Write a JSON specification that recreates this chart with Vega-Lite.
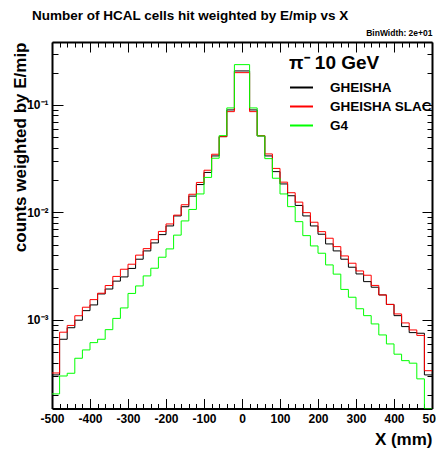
{
  "$schema": "https://vega.github.io/schema/vega-lite/v6.json",
  "autosize": "none",
  "width": 380,
  "height": 366.5,
  "padding": {"left": 52, "top": 42, "right": 4, "bottom": 41.5},
  "background": "white",
  "title": {"text": "Number of HCAL cells hit weighted by E/mip vs X", "anchor": "start", "frame": "group", "dx": -20, "dy": 13, "fontSize": 13.5, "fontWeight": "bold", "font": "Liberation Sans", "color": "black", "baseline": "alphabetic", "offset": 8},
  "config": {
    "view": {"stroke": null},
    "font": "Liberation Sans",
    "axis": {"domainColor": "black", "domainWidth": 2, "tickColor": "black", "tickWidth": 1, "labelFont": "Liberation Sans", "labelFontWeight": "bold", "labelColor": "black", "titleFont": "Liberation Sans", "titleFontWeight": "bold", "titleColor": "black", "grid": false, "labelOverlap": false, "labelFlush": false, "labelBound": false}
  },
  "data": {"values": [
    {"x": -500, "GHEISHA": 3.08e-4, "GHEISHA SLAC": 3.21e-4, "G4": 2.05e-4},
    {"x": -480, "GHEISHA": 6.61e-4, "GHEISHA SLAC": 7.69e-4, "G4": 3.01e-4},
    {"x": -460, "GHEISHA": 8.46e-4, "GHEISHA SLAC": 8.89e-4, "G4": 3.19e-4},
    {"x": -440, "GHEISHA": 9.94e-4, "GHEISHA SLAC": 1.094e-3, "G4": 4.40e-4},
    {"x": -420, "GHEISHA": 1.220e-3, "GHEISHA SLAC": 1.313e-3, "G4": 5.26e-4},
    {"x": -400, "GHEISHA": 1.379e-3, "GHEISHA SLAC": 1.545e-3, "G4": 6.15e-4},
    {"x": -380, "GHEISHA": 1.745e-3, "GHEISHA SLAC": 1.772e-3, "G4": 6.61e-4},
    {"x": -360, "GHEISHA": 1.939e-3, "GHEISHA SLAC": 2.089e-3, "G4": 8.12e-4},
    {"x": -340, "GHEISHA": 2.296e-3, "GHEISHA SLAC": 2.540e-3, "G4": 1.033e-3},
    {"x": -320, "GHEISHA": 2.512e-3, "GHEISHA SLAC": 2.962e-3, "G4": 1.293e-3},
    {"x": -300, "GHEISHA": 3.014e-3, "GHEISHA SLAC": 3.298e-3, "G4": 1.764e-3},
    {"x": -280, "GHEISHA": 3.671e-3, "GHEISHA SLAC": 4.007e-3, "G4": 2.071e-3},
    {"x": -260, "GHEISHA": 4.385e-3, "GHEISHA SLAC": 4.607e-3, "G4": 2.567e-3},
    {"x": -240, "GHEISHA": 5.204e-3, "GHEISHA SLAC": 5.585e-3, "G4": 3.027e-3},
    {"x": -220, "GHEISHA": 6.217e-3, "GHEISHA SLAC": 6.657e-3, "G4": 3.831e-3},
    {"x": -200, "GHEISHA": 7.488e-3, "GHEISHA SLAC": 7.816e-3, "G4": 4.577e-3},
    {"x": -180, "GHEISHA": 9.277e-3, "GHEISHA SLAC": 9.438e-3, "G4": 6.150e-3},
    {"x": -160, "GHEISHA": 1.130e-2, "GHEISHA SLAC": 1.179e-2, "G4": 8.335e-3},
    {"x": -140, "GHEISHA": 1.418e-2, "GHEISHA SLAC": 1.476e-2, "G4": 1.066e-2},
    {"x": -120, "GHEISHA": 1.817e-2, "GHEISHA SLAC": 1.901e-2, "G4": 1.486e-2},
    {"x": -100, "GHEISHA": 2.356e-2, "GHEISHA SLAC": 2.470e-2, "G4": 2.117e-2},
    {"x": -80, "GHEISHA": 3.354e-2, "GHEISHA SLAC": 3.478e-2, "G4": 3.193e-2},
    {"x": -60, "GHEISHA": 5.072e-2, "GHEISHA SLAC": 5.072e-2, "G4": 5.182e-2},
    {"x": -40, "GHEISHA": 8.985e-2, "GHEISHA SLAC": 8.665e-2, "G4": 9.378e-2},
    {"x": -20, "GHEISHA": 0.2071, "GHEISHA SLAC": 0.1997, "G4": 0.2371},
    {"x": 0, "GHEISHA": 0.2071, "GHEISHA SLAC": 0.1997, "G4": 0.2371},
    {"x": 20, "GHEISHA": 8.985e-2, "GHEISHA SLAC": 8.665e-2, "G4": 9.378e-2},
    {"x": 40, "GHEISHA": 5.148e-2, "GHEISHA SLAC": 5.182e-2, "G4": 5.148e-2},
    {"x": 60, "GHEISHA": 3.354e-2, "GHEISHA SLAC": 3.501e-2, "G4": 3.166e-2},
    {"x": 80, "GHEISHA": 2.396e-2, "GHEISHA SLAC": 2.567e-2, "G4": 2.080e-2},
    {"x": 100, "GHEISHA": 1.841e-2, "GHEISHA SLAC": 1.913e-2, "G4": 1.486e-2},
    {"x": 120, "GHEISHA": 1.430e-2, "GHEISHA SLAC": 1.525e-2, "G4": 1.132e-2},
    {"x": 140, "GHEISHA": 1.162e-2, "GHEISHA SLAC": 1.247e-2, "G4": 8.210e-3},
    {"x": 160, "GHEISHA": 9.277e-3, "GHEISHA SLAC": 9.956e-3, "G4": 6.085e-3},
    {"x": 180, "GHEISHA": 7.488e-3, "GHEISHA SLAC": 8.106e-3, "G4": 4.880e-3},
    {"x": 200, "GHEISHA": 6.270e-3, "GHEISHA SLAC": 6.628e-3, "G4": 4.173e-3},
    {"x": 220, "GHEISHA": 5.093e-3, "GHEISHA SLAC": 5.754e-3, "G4": 3.249e-3},
    {"x": 240, "GHEISHA": 4.385e-3, "GHEISHA SLAC": 4.808e-3, "G4": 2.667e-3},
    {"x": 260, "GHEISHA": 3.671e-3, "GHEISHA SLAC": 3.939e-3, "G4": 1.922e-3},
    {"x": 280, "GHEISHA": 3.092e-3, "GHEISHA SLAC": 3.369e-3, "G4": 1.626e-3},
    {"x": 300, "GHEISHA": 2.679e-3, "GHEISHA SLAC": 2.856e-3, "G4": 1.271e-3},
    {"x": 320, "GHEISHA": 2.271e-3, "GHEISHA SLAC": 2.605e-3, "G4": 1.096e-3},
    {"x": 340, "GHEISHA": 2.015e-3, "GHEISHA SLAC": 2.094e-3, "G4": 9.18e-4},
    {"x": 360, "GHEISHA": 1.708e-3, "GHEISHA SLAC": 1.708e-3, "G4": 7.25e-4},
    {"x": 380, "GHEISHA": 1.394e-3, "GHEISHA SLAC": 1.394e-3, "G4": 5.98e-4},
    {"x": 400, "GHEISHA": 1.096e-3, "GHEISHA SLAC": 1.137e-3, "G4": 4.80e-4},
    {"x": 420, "GHEISHA": 8.67e-4, "GHEISHA SLAC": 9.38e-4, "G4": 4.18e-4},
    {"x": 440, "GHEISHA": 7.62e-4, "GHEISHA SLAC": 8.07e-4, "G4": 3.96e-4},
    {"x": 460, "GHEISHA": 7.52e-4, "GHEISHA SLAC": 7.18e-4, "G4": 2.83e-4},
    {"x": 480, "GHEISHA": 3.08e-4, "GHEISHA SLAC": 3.37e-4, "G4": 1.5e-4},
    {"x": 500, "GHEISHA": 3.08e-4, "GHEISHA SLAC": 3.37e-4, "G4": 1.5e-4}
  ]},
  "transform": [{"fold": ["GHEISHA", "GHEISHA SLAC", "G4"], "as": ["series", "v"]}],
  "layer": [
    {
      "mark": {"type": "line", "interpolate": "step-after", "strokeWidth": 1, "clip": true},
      "encoding": {
        "x": {"field": "x", "type": "quantitative",
          "scale": {"domain": [-500, 500], "nice": false, "zero": false},
          "axis": {"orient": "bottom",
            "values": [-500,-480,-460,-440,-420,-400,-380,-360,-340,-320,-300,-280,-260,-240,-220,-200,-180,-160,-140,-120,-100,-80,-60,-40,-20,0,20,40,60,80,100,120,140,160,180,200,220,240,260,280,300,320,340,360,380,400,420,440,460,480,500],
            "labelExpr": "datum.value % 100 == 0 ? '' + datum.value : ''",
            "tickSize": {"condition": {"test": "datum.value % 100 == 0", "value": -10}, "value": -5},
            "labelFontSize": 12, "labelPadding": 15,
            "title": "X (mm)", "titleFontSize": 17, "titleAlign": "right", "titleAnchor": "end", "titleBaseline": "alphabetic", "titleX": 380, "titleY": 35.5}},
        "y": {"field": "v", "type": "quantitative",
          "scale": {"type": "log", "domain": [1.5e-4, 0.385], "nice": false},
          "axis": {"orient": "left",
            "values": [0.0002,0.0003,0.0004,0.0005,0.0006,0.0007,0.0008,0.0009,0.001,0.002,0.003,0.004,0.005,0.006,0.007,0.008,0.009,0.01,0.02,0.03,0.04,0.05,0.06,0.07,0.08,0.09,0.1,0.2,0.3],
            "labelExpr": "datum.value == 0.1 ? '10⁻¹' : datum.value == 0.01 ? '10⁻²' : datum.value == 0.001 ? '10⁻³' : ''",
            "tickSize": {"condition": {"test": "datum.value == 0.1 || datum.value == 0.01 || datum.value == 0.001", "value": -11}, "value": -6},
            "labelFontSize": 12, "labelPadding": 15, "labelAlign": "right", "labelBaseline": "middle",
            "title": "counts weighted by E/mip", "titleFontSize": 17, "titleAngle": -90, "titleAlign": "right", "titleAnchor": "end", "titleBaseline": "alphabetic", "titleX": -27, "titleY": 0}},
        "color": {"field": "series", "type": "nominal",
          "scale": {"domain": ["GHEISHA", "GHEISHA SLAC", "G4"], "range": ["#000000", "#ff0000", "#00ff00"]},
          "legend": {"orient": "none", "legendX": 237, "legendY": 12, "title": "π⁻ 10 GeV", "titleFont": "Liberation Sans", "titleFontSize": 19, "titleFontWeight": "bold", "titleColor": "black", "titlePadding": 2,
            "labelFont": "Liberation Sans", "labelFontSize": 13.5, "labelFontWeight": "bold", "labelColor": "black", "labelOffset": 16, "labelLimit": 0,
            "symbolType": "stroke", "symbolSize": 529, "symbolStrokeWidth": 2, "rowPadding": 0, "padding": 0}}
      }
    },
    {
      "mark": {"type": "line", "interpolate": "step-after", "strokeOpacity": 0, "clip": true},
      "encoding": {
        "detail": {"field": "series"},
        "x": {"field": "x", "type": "quantitative",
          "axis": {"orient": "top",
            "values": [-500,-480,-460,-440,-420,-400,-380,-360,-340,-320,-300,-280,-260,-240,-220,-200,-180,-160,-140,-120,-100,-80,-60,-40,-20,0,20,40,60,80,100,120,140,160,180,200,220,240,260,280,300,320,340,360,380,400,420,440,460,480,500],
            "labels": false,
            "tickSize": {"condition": {"test": "datum.value % 100 == 0", "value": -10}, "value": -5},
            "title": "BinWidth: 2e+01", "titleFontSize": 8.5, "titleAlign": "right", "titleAnchor": "end", "titleBaseline": "alphabetic", "titleX": 380, "titleY": -7}},
        "y": {"field": "v", "type": "quantitative",
          "axis": {"orient": "right",
            "values": [0.0002,0.0003,0.0004,0.0005,0.0006,0.0007,0.0008,0.0009,0.001,0.002,0.003,0.004,0.005,0.006,0.007,0.008,0.009,0.01,0.02,0.03,0.04,0.05,0.06,0.07,0.08,0.09,0.1,0.2,0.3],
            "labels": false,
            "tickSize": {"condition": {"test": "datum.value == 0.1 || datum.value == 0.01 || datum.value == 0.001", "value": -10}, "value": -5},
            "title": null}}
      }
    }
  ],
  "resolve": {"axis": {"x": "independent", "y": "independent"}}
}
